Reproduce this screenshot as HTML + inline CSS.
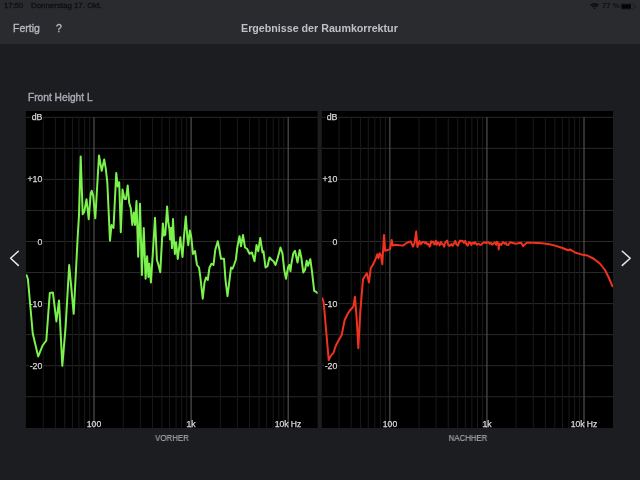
<!DOCTYPE html>
<html><head><meta charset="utf-8">
<style>
html,body{margin:0;padding:0;}
body{-webkit-font-smoothing:antialiased;width:640px;height:480px;overflow:hidden;background:#1c1d21;position:relative;font-family:"Liberation Sans",sans-serif;}
.nav{position:absolute;left:0;top:0;width:640px;height:44px;background:#2a2b2f;}
.t{position:absolute;white-space:nowrap;line-height:1;}
.t,.yl,.xl{will-change:transform;}
.yl{position:absolute;width:30px;text-align:right;font-size:8.8px;line-height:10px;color:#d8d8d8;-webkit-text-stroke:0.25px #d8d8d8;}
.yl span{background:#000;padding:0 0.6px;}
.xl{position:absolute;top:419px;width:60px;text-align:center;font-size:8.6px;line-height:10px;color:#d8d8d8;-webkit-text-stroke:0.25px #d8d8d8;}
svg{position:absolute;left:0;top:0;}
</style></head><body>
<div class="nav"></div>
<div class="t" style="left:4px;top:2px;font-size:7.6px;color:#0f1013;-webkit-text-stroke:0.3px #0f1013;">17:50</div>
<div class="t" style="left:31px;top:2px;font-size:7.9px;color:#0f1013;-webkit-text-stroke:0.3px #0f1013;">Donnerstag 17. Okt.</div>
<div class="t" style="left:601.5px;top:2.2px;font-size:7.8px;font-weight:bold;color:#0f1013;">77 %</div>
<svg width="640" height="480" viewBox="0 0 640 480">
<rect x="25.9" y="111" width="291.7" height="317" fill="#000"/>
<line x1="25.9" y1="117.30" x2="317.6" y2="117.30" stroke="#292929" stroke-width="1"/>
<line x1="25.9" y1="148.35" x2="317.6" y2="148.35" stroke="#292929" stroke-width="1"/>
<line x1="25.9" y1="179.40" x2="317.6" y2="179.40" stroke="#292929" stroke-width="1"/>
<line x1="25.9" y1="210.45" x2="317.6" y2="210.45" stroke="#292929" stroke-width="1"/>
<line x1="25.9" y1="241.50" x2="317.6" y2="241.50" stroke="#292929" stroke-width="1"/>
<line x1="25.9" y1="272.55" x2="317.6" y2="272.55" stroke="#292929" stroke-width="1"/>
<line x1="25.9" y1="303.60" x2="317.6" y2="303.60" stroke="#292929" stroke-width="1"/>
<line x1="25.9" y1="334.65" x2="317.6" y2="334.65" stroke="#292929" stroke-width="1"/>
<line x1="25.9" y1="365.70" x2="317.6" y2="365.70" stroke="#292929" stroke-width="1"/>
<line x1="25.9" y1="396.75" x2="317.6" y2="396.75" stroke="#292929" stroke-width="1"/>
<line x1="43.23" y1="117.30" x2="43.23" y2="428" stroke="#1a1a1a" stroke-width="1"/>
<line x1="55.36" y1="117.30" x2="55.36" y2="428" stroke="#1a1a1a" stroke-width="1"/>
<line x1="64.77" y1="117.30" x2="64.77" y2="428" stroke="#1a1a1a" stroke-width="1"/>
<line x1="72.46" y1="117.30" x2="72.46" y2="428" stroke="#1a1a1a" stroke-width="1"/>
<line x1="78.96" y1="117.30" x2="78.96" y2="428" stroke="#1a1a1a" stroke-width="1"/>
<line x1="84.59" y1="117.30" x2="84.59" y2="428" stroke="#1a1a1a" stroke-width="1"/>
<line x1="89.56" y1="117.30" x2="89.56" y2="428" stroke="#1a1a1a" stroke-width="1"/>
<line x1="94.00" y1="117.30" x2="94.00" y2="428" stroke="#4c4c4c" stroke-width="1.25"/>
<line x1="123.23" y1="117.30" x2="123.23" y2="428" stroke="#1a1a1a" stroke-width="1"/>
<line x1="140.33" y1="117.30" x2="140.33" y2="428" stroke="#1a1a1a" stroke-width="1"/>
<line x1="152.46" y1="117.30" x2="152.46" y2="428" stroke="#1a1a1a" stroke-width="1"/>
<line x1="161.87" y1="117.30" x2="161.87" y2="428" stroke="#1a1a1a" stroke-width="1"/>
<line x1="169.56" y1="117.30" x2="169.56" y2="428" stroke="#1a1a1a" stroke-width="1"/>
<line x1="176.06" y1="117.30" x2="176.06" y2="428" stroke="#1a1a1a" stroke-width="1"/>
<line x1="181.69" y1="117.30" x2="181.69" y2="428" stroke="#1a1a1a" stroke-width="1"/>
<line x1="186.66" y1="117.30" x2="186.66" y2="428" stroke="#1a1a1a" stroke-width="1"/>
<line x1="191.10" y1="117.30" x2="191.10" y2="428" stroke="#4c4c4c" stroke-width="1.25"/>
<line x1="220.33" y1="117.30" x2="220.33" y2="428" stroke="#1a1a1a" stroke-width="1"/>
<line x1="237.43" y1="117.30" x2="237.43" y2="428" stroke="#1a1a1a" stroke-width="1"/>
<line x1="249.56" y1="117.30" x2="249.56" y2="428" stroke="#1a1a1a" stroke-width="1"/>
<line x1="258.97" y1="117.30" x2="258.97" y2="428" stroke="#1a1a1a" stroke-width="1"/>
<line x1="266.66" y1="117.30" x2="266.66" y2="428" stroke="#1a1a1a" stroke-width="1"/>
<line x1="273.16" y1="117.30" x2="273.16" y2="428" stroke="#1a1a1a" stroke-width="1"/>
<line x1="278.79" y1="117.30" x2="278.79" y2="428" stroke="#1a1a1a" stroke-width="1"/>
<line x1="283.76" y1="117.30" x2="283.76" y2="428" stroke="#1a1a1a" stroke-width="1"/>
<line x1="288.20" y1="117.30" x2="288.20" y2="428" stroke="#4c4c4c" stroke-width="1.25"/>
<rect x="321.8" y="111" width="291.2" height="317" fill="#000"/>
<line x1="321.8" y1="117.30" x2="613.0" y2="117.30" stroke="#292929" stroke-width="1"/>
<line x1="321.8" y1="148.35" x2="613.0" y2="148.35" stroke="#292929" stroke-width="1"/>
<line x1="321.8" y1="179.40" x2="613.0" y2="179.40" stroke="#292929" stroke-width="1"/>
<line x1="321.8" y1="210.45" x2="613.0" y2="210.45" stroke="#292929" stroke-width="1"/>
<line x1="321.8" y1="241.50" x2="613.0" y2="241.50" stroke="#292929" stroke-width="1"/>
<line x1="321.8" y1="272.55" x2="613.0" y2="272.55" stroke="#292929" stroke-width="1"/>
<line x1="321.8" y1="303.60" x2="613.0" y2="303.60" stroke="#292929" stroke-width="1"/>
<line x1="321.8" y1="334.65" x2="613.0" y2="334.65" stroke="#292929" stroke-width="1"/>
<line x1="321.8" y1="365.70" x2="613.0" y2="365.70" stroke="#292929" stroke-width="1"/>
<line x1="321.8" y1="396.75" x2="613.0" y2="396.75" stroke="#292929" stroke-width="1"/>
<line x1="339.05" y1="117.30" x2="339.05" y2="428" stroke="#1a1a1a" stroke-width="1"/>
<line x1="351.18" y1="117.30" x2="351.18" y2="428" stroke="#1a1a1a" stroke-width="1"/>
<line x1="360.59" y1="117.30" x2="360.59" y2="428" stroke="#1a1a1a" stroke-width="1"/>
<line x1="368.28" y1="117.30" x2="368.28" y2="428" stroke="#1a1a1a" stroke-width="1"/>
<line x1="374.78" y1="117.30" x2="374.78" y2="428" stroke="#1a1a1a" stroke-width="1"/>
<line x1="380.41" y1="117.30" x2="380.41" y2="428" stroke="#1a1a1a" stroke-width="1"/>
<line x1="385.38" y1="117.30" x2="385.38" y2="428" stroke="#1a1a1a" stroke-width="1"/>
<line x1="389.82" y1="117.30" x2="389.82" y2="428" stroke="#4c4c4c" stroke-width="1.25"/>
<line x1="419.05" y1="117.30" x2="419.05" y2="428" stroke="#1a1a1a" stroke-width="1"/>
<line x1="436.15" y1="117.30" x2="436.15" y2="428" stroke="#1a1a1a" stroke-width="1"/>
<line x1="448.28" y1="117.30" x2="448.28" y2="428" stroke="#1a1a1a" stroke-width="1"/>
<line x1="457.69" y1="117.30" x2="457.69" y2="428" stroke="#1a1a1a" stroke-width="1"/>
<line x1="465.38" y1="117.30" x2="465.38" y2="428" stroke="#1a1a1a" stroke-width="1"/>
<line x1="471.88" y1="117.30" x2="471.88" y2="428" stroke="#1a1a1a" stroke-width="1"/>
<line x1="477.51" y1="117.30" x2="477.51" y2="428" stroke="#1a1a1a" stroke-width="1"/>
<line x1="482.48" y1="117.30" x2="482.48" y2="428" stroke="#1a1a1a" stroke-width="1"/>
<line x1="486.92" y1="117.30" x2="486.92" y2="428" stroke="#4c4c4c" stroke-width="1.25"/>
<line x1="516.15" y1="117.30" x2="516.15" y2="428" stroke="#1a1a1a" stroke-width="1"/>
<line x1="533.25" y1="117.30" x2="533.25" y2="428" stroke="#1a1a1a" stroke-width="1"/>
<line x1="545.38" y1="117.30" x2="545.38" y2="428" stroke="#1a1a1a" stroke-width="1"/>
<line x1="554.79" y1="117.30" x2="554.79" y2="428" stroke="#1a1a1a" stroke-width="1"/>
<line x1="562.48" y1="117.30" x2="562.48" y2="428" stroke="#1a1a1a" stroke-width="1"/>
<line x1="568.98" y1="117.30" x2="568.98" y2="428" stroke="#1a1a1a" stroke-width="1"/>
<line x1="574.61" y1="117.30" x2="574.61" y2="428" stroke="#1a1a1a" stroke-width="1"/>
<line x1="579.58" y1="117.30" x2="579.58" y2="428" stroke="#1a1a1a" stroke-width="1"/>
<line x1="584.02" y1="117.30" x2="584.02" y2="428" stroke="#4c4c4c" stroke-width="1.25"/>
</svg>
<div class="t" style="left:13px;top:23px;font-size:10.5px;color:#b4b8bf;-webkit-text-stroke:0.35px #b4b8bf;">Fertig</div>
<div class="t" style="left:56px;top:23px;font-size:10.5px;color:#b4b8bf;-webkit-text-stroke:0.35px #b4b8bf;">?</div>
<div class="t" style="left:241.4px;top:23px;font-size:10.7px;font-weight:bold;color:#bdc1c7;">Ergebnisse der Raumkorrektur</div>
<div class="t" style="left:27.8px;top:93.4px;font-size:10.2px;color:#a6aab1;-webkit-text-stroke:0.4px #a6aab1;">Front Height L</div>
<div class="yl" style="left:12.8px;top:112.3px"><span>dB</span></div>
<div class="yl" style="left:12.8px;top:174.4px"><span>+10</span></div>
<div class="yl" style="left:12.8px;top:236.5px"><span>0</span></div>
<div class="yl" style="left:12.8px;top:298.6px"><span>-10</span></div>
<div class="yl" style="left:12.8px;top:360.7px"><span>-20</span></div>
<div class="yl" style="left:308.2px;top:112.3px"><span>dB</span></div>
<div class="yl" style="left:308.2px;top:174.4px"><span>+10</span></div>
<div class="yl" style="left:308.2px;top:236.5px"><span>0</span></div>
<div class="yl" style="left:308.2px;top:298.6px"><span>-10</span></div>
<div class="yl" style="left:308.2px;top:360.7px"><span>-20</span></div>
<div class="xl" style="left:64.0px">100</div>
<div class="xl" style="left:161.1px">1k</div>
<div class="xl" style="left:258.2px">10k Hz</div>
<div class="xl" style="left:359.8px">100</div>
<div class="xl" style="left:456.9px">1k</div>
<div class="xl" style="left:554.0px">10k Hz</div>
<svg width="640" height="480" viewBox="0 0 640 480">
<defs><clipPath id="c1"><rect x="26" y="111" width="291.6" height="317"/></clipPath><clipPath id="c2"><rect x="322" y="111" width="291" height="317"/></clipPath></defs>
<polyline clip-path="url(#c1)" points="26.60,275.30 27.90,279.00 32.75,333.50 38.20,356.40 42.60,345.50 46.30,340.50 49.80,293.00 52.90,292.50 56.40,321.40 59.00,300.60 62.30,365.80 65.60,326.90 69.20,265.00 73.70,313.80 76.10,268.00 77.50,240.00 79.00,215.00 80.70,156.50 82.70,214.20 84.30,211.70 86.50,199.20 88.70,219.20 90.70,193.30 91.70,190.80 93.20,195.80 95.30,218.30 99.00,155.50 101.70,170.80 104.20,159.40 105.80,168.75 107.30,182.30 110.00,240.60 111.50,225.00 113.50,228.00 116.25,172.90 117.70,186.50 119.20,182.30 120.80,232.30 122.50,189.60 124.60,199.00 126.00,199.00 127.70,185.40 129.20,203.00 130.80,208.30 132.30,225.00 133.75,212.50 135.00,225.00 136.50,201.00 138.20,256.70 140.00,203.75 141.90,275.00 143.75,228.00 145.60,278.80 147.10,256.30 148.40,277.00 149.40,263.80 150.90,282.50 152.75,254.40 155.00,217.80 156.90,260.00 158.40,264.70 160.25,272.20 162.90,223.40 164.00,235.60 165.30,234.70 167.10,206.50 168.20,221.90 169.40,229.20 170.10,239.40 171.10,227.70 172.00,248.10 173.00,219.00 174.00,240.80 174.90,253.90 176.10,242.30 177.80,259.00 179.60,243.70 180.30,237.20 181.30,248.10 182.50,256.90 184.00,236.40 185.80,216.50 187.40,238.00 188.30,245.20 189.80,230.60 191.20,236.40 193.00,253.90 195.00,251.00 197.00,265.00 199.00,267.50 200.25,276.25 202.75,298.75 204.50,282.50 206.00,277.50 207.75,280.00 209.50,267.50 211.50,263.75 213.50,265.00 215.25,250.00 217.75,241.25 219.50,250.00 221.00,258.75 224.00,258.75 225.50,280.00 227.50,296.25 229.50,280.00 231.00,267.50 232.50,268.75 234.00,265.00 235.75,260.00 237.50,246.25 239.50,236.25 241.00,246.25 243.00,235.00 245.00,247.50 247.00,248.75 249.50,253.75 252.00,252.50 254.50,261.25 256.50,245.00 258.25,251.25 260.25,238.00 262.50,252.50 263.50,251.25 265.50,267.50 267.50,266.25 269.50,257.50 271.75,260.00 273.50,261.25 275.50,265.00 277.50,258.75 280.50,247.50 282.50,253.75 284.25,270.00 286.00,278.75 288.00,267.50 289.25,265.00 290.50,271.25 291.30,264.20 293.30,253.30 295.00,250.80 297.50,262.50 299.70,250.00 301.30,257.50 303.30,272.50 305.00,270.00 306.70,260.80 308.00,265.80 310.30,259.20 312.00,271.70 314.20,290.80 315.80,291.70 317.50,293.00" fill="none" stroke="#7cf24c" stroke-width="2" stroke-linejoin="round" stroke-linecap="round"/>
<polyline clip-path="url(#c2)" points="322.30,298.30 323.70,302.50 328.70,360.00 330.30,356.70 332.00,354.20 333.30,353.30 335.80,345.80 339.20,339.20 341.70,335.00 343.00,328.30 344.70,320.00 347.50,314.20 349.70,310.80 352.00,308.30 353.30,306.70 355.00,296.70 357.00,323.30 358.30,348.30 360.30,311.60 363.00,279.20 365.20,275.80 366.80,273.30 369.00,282.50 370.70,268.30 372.70,265.00 375.20,260.00 377.30,254.20 378.50,258.30 379.70,253.30 381.00,255.00 382.30,264.20 383.00,251.70 384.00,235.00 385.20,250.80 387.70,250.00 390.00,249.40 391.70,240.00 392.80,245.60 395.60,244.70 399.40,245.20 403.10,245.60 406.90,242.80 410.60,241.40 413.00,246.60 414.60,242.80 416.20,231.60 417.40,247.00 419.50,241.00 420.00,242.97 420.74,244.14 421.40,243.73 422.33,242.01 423.39,241.93 424.38,242.05 425.06,243.33 426.40,242.25 427.20,244.42 428.66,244.09 429.61,246.65 430.26,245.89 431.12,241.32 431.82,242.37 433.16,241.56 434.28,244.49 435.22,243.91 435.87,240.78 436.66,244.75 437.64,242.41 438.77,243.30 439.64,245.48 440.87,241.96 441.99,243.76 443.37,245.07 444.23,246.67 444.94,243.08 446.22,241.37 447.26,240.65 448.46,245.29 449.58,246.00 450.46,244.85 451.59,244.11 452.60,245.78 454.05,243.43 455.25,240.79 456.48,244.54 457.98,245.66 458.83,242.87 460.04,240.54 461.05,241.48 461.76,240.78 463.05,241.23 463.87,242.90 465.25,240.92 466.26,243.92 467.65,245.64 469.03,242.18 470.01,242.70 471.40,244.88 472.14,242.69 472.95,242.85 473.98,243.85 474.82,242.21 475.80,243.23 476.91,244.87 478.13,243.64 479.28,244.09 479.93,244.72 481.23,244.65 482.55,243.30 483.51,242.49 484.68,242.37 485.34,242.78 486.09,243.15 486.74,242.20 487.47,242.48 488.40,242.27 489.79,243.92 490.52,242.91 491.43,243.22 492.14,244.58 493.64,243.50 494.67,242.44 495.36,243.16 496.20,244.92 496.95,241.69 498.40,243.71 498.70,249.40 499.14,243.77 499.76,243.71 501.24,245.05 502.47,242.64 503.40,242.27 504.69,243.73 505.99,242.92 506.79,244.85 508.28,245.01 510.00,242.30 515.60,243.70 521.20,242.80 523.10,246.10 526.90,242.80 533.40,242.80 541.90,243.30 549.40,244.20 555.00,245.60 562.50,248.00 568.10,250.30 570.00,249.40 575.00,252.50 581.25,254.40 587.50,255.60 593.75,258.75 600.00,263.75 605.00,270.00 608.75,277.50 612.50,286.25" fill="none" stroke="#f0321e" stroke-width="2" stroke-linejoin="round" stroke-linecap="round"/>
<path d="M18.3 251.2 L10.6 258.3 L18.3 265.4" fill="none" stroke="#e8e8e8" stroke-width="1.5" stroke-linecap="round" stroke-linejoin="round"/>
<path d="M622.3 251.2 L630.2 258.3 L622.3 265.4" fill="none" stroke="#e8e8e8" stroke-width="1.5" stroke-linecap="round" stroke-linejoin="round"/>
<g fill="none" stroke="#0c0d10" stroke-width="1.5" stroke-linecap="butt"><path d="M590.7 5.4 A5.6 5.6 0 0 1 598.5 5.4"/><path d="M592.2 6.9 A3.5 3.5 0 0 1 597.0 6.9"/></g><path d="M593.4 8.1 L594.6 9.4 L595.8 8.1 A1.7 1.7 0 0 0 593.4 8.1 Z" fill="#0c0d10"/>
<rect x="621.1" y="3.8" width="13.2" height="5.4" rx="1.3" fill="none" stroke="#1d1e22" stroke-width="0.9"/><path d="M635.0 5.5 A1.3 1.3 0 0 1 635.0 7.7" fill="none" stroke="#1d1e22" stroke-width="1"/>
<rect x="621.6" y="4.3" width="9.4" height="4.4" fill="#050506"/>
</svg>
<div class="t" style="left:141.7px;top:434px;width:60px;text-align:center;font-size:8.6px;color:#aeb1b6;transform:scaleX(0.91);-webkit-text-stroke:0.1px #aeb1b6;">VORHER</div>
<div class="t" style="left:437.6px;top:434px;width:60px;text-align:center;font-size:8.6px;color:#aeb1b6;transform:scaleX(0.91);-webkit-text-stroke:0.1px #aeb1b6;">NACHHER</div>
</body></html>
